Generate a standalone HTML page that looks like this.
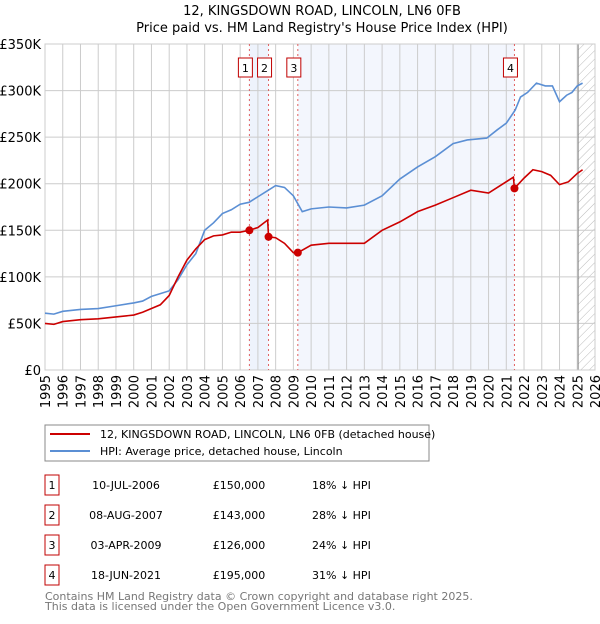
<!DOCTYPE html>
<html><head><meta charset="utf-8"><style>
body{margin:0;background:#fff;font-family:"DejaVu Sans","Liberation Sans",sans-serif}
svg text{font-family:"DejaVu Sans","Liberation Sans",sans-serif}
</style></head><body>
<svg id="c" width="600" height="620" xmlns="http://www.w3.org/2000/svg">
<defs><pattern id="hatch" width="6" height="6" patternUnits="userSpaceOnUse" patternTransform="rotate(45)"><line x1="0" y1="0" x2="0" y2="6" stroke="#bbb" stroke-width="1"/></pattern></defs>
<text x="322" y="15" text-anchor="middle" font-size="13">12, KINGSDOWN ROAD, LINCOLN, LN6 0FB</text>
<text x="322" y="32" text-anchor="middle" font-size="13">Price paid vs. HM Land Registry's House Price Index (HPI)</text>
<g id="plot"></g>
<rect x="45" y="425" width="384" height="36" fill="#fff" stroke="#888"/>
<line x1="50" y1="434" x2="90" y2="434" stroke="#cc0000" stroke-width="2"/>
<text x="100" y="438" font-size="11">12, KINGSDOWN ROAD, LINCOLN, LN6 0FB (detached house)</text>
<line x1="50" y1="451" x2="90" y2="451" stroke="#5b8fd4" stroke-width="2"/>
<text x="100" y="455" font-size="11">HPI: Average price, detached house, Lincoln</text>
<g id="table"></g>
<text x="45" y="600" font-size="11" fill="#777">Contains HM Land Registry data © Crown copyright and database right 2025.</text>
<text x="45" y="610" font-size="11" fill="#777">This data is licensed under the Open Government Licence v3.0.</text>
</svg>
<script>
const hpiYears=[1995,1995.5,1996,1997,1998,1999,2000,2000.5,2001,2001.5,2002,2002.5,2003,2003.5,2004,2004.5,2005,2005.5,2006,2006.5,2007,2007.5,2008,2008.5,2009,2009.5,2010,2011,2012,2013,2014,2015,2016,2017,2018,2018.8,2019.9,2020.5,2021,2021.5,2021.8,2022.2,2022.7,2023.2,2023.6,2024,2024.4,2024.7,2025,2025.3];
const hpiValues=[61,60,63,65,66,69,72,74,79,82,85,97,113,125,150,158,168,172,178,180,186,192,198,196,187,170,173,175,174,177,187,205,218,229,243,247,249,258,265,279,293,298,308,305,305,288,295,298,305,308];
const ppYears=[1995,1995.5,1996,1997,1998,1999,2000,2000.5,2001,2001.5,2002,2002.5,2003,2003.5,2004,2004.5,2005,2005.5,2006,2006.52,2007,2007.55,2007.6,2008,2008.5,2009,2009.25,2010,2011,2012,2013,2014,2015,2016,2017,2018,2019,2020,2021.4,2021.46,2022,2022.5,2023,2023.5,2024,2024.5,2025,2025.3];
const ppValues=[50,49,52,54,55,57,59,62,66,70,80,100,118,130,140,144,145,148,148,150,153,161,143,142,136,126,126,134,136,136,136,150,159,170,177,185,193,190,207,195,206,215,213,209,199,202,211,215];
const saleYears=[2006.52,2007.6,2009.25,2021.46];
const saleValues=[150,143,126,195];
const saleLabels=["1","2","3","4"];
const saleDates=["10-JUL-2006","08-AUG-2007","03-APR-2009","18-JUN-2021"];
const salePrices=["£150,000","£143,000","£126,000","£195,000"];
const saleDiffs=["18% ↓ HPI","28% ↓ HPI","24% ↓ HPI","31% ↓ HPI"];
const yTicks=[0,50,100,150,200,250,300,350];
const yTickLabels=["£0","£50K","£100K","£150K","£200K","£250K","£300K","£350K"];
const xTicks=[1995,1996,1997,1998,1999,2000,2001,2002,2003,2004,2005,2006,2007,2008,2009,2010,2011,2012,2013,2014,2015,2016,2017,2018,2019,2020,2021,2022,2023,2024,2025,2026];

const NS="http://www.w3.org/2000/svg";
const L=45,R=595,T=44,B=370;
const x=v=>L+(v-1995)*(R-L)/31;
const y=v=>B-v*(B-T)/350;
const g=document.getElementById('plot');
function mk(tag,at,parent){const e=document.createElementNS(NS,tag);for(const k in at)e.setAttribute(k,at[k]);(parent||g).appendChild(e);return e;}
// shading
let s1=mk('rect',{x:x(saleYears[0]),y:T,width:x(saleYears[1])-x(saleYears[0]),height:B-T,fill:'#eef3fc'});


let s2=mk('rect',{x:x(saleYears[2]),y:T,width:x(saleYears[3])-x(saleYears[2]),height:B-T,fill:'#f3f6fd'});


let h=mk('rect',{x:x(2025.05),y:T,width:R-x(2025.05),height:B-T,fill:'url(#hatch)'});


// grid
yTicks.forEach((t,i)=>{
 let l=mk('line',{x1:L,x2:R,y1:y(t),y2:y(t),stroke:'#ccc'});
 
 
 let tx=mk('text',{x:L-4,y:y(t)+5,'text-anchor':'end','font-size':13});
 tx.textContent=yTickLabels[i];
 
 
});
xTicks.forEach(t=>{
 let l=mk('line',{x1:x(t),x2:x(t),y1:T,y2:B,stroke:'#ccc'});
 
 
 let tx=mk('text',{x:0,y:0,'text-anchor':'end','font-size':13,transform:`translate(${x(t)+5},${B+5}) rotate(-90)`});
 tx.textContent=t;
 
 
});
let vl=mk('line',{x1:x(2025.05),x2:x(2025.05),y1:T,y2:B,stroke:'#888'});


let fr=mk('rect',{x:L,y:T,width:R-L,height:B-T,fill:'none',stroke:'#ccc'});


// sale vlines & labels
saleYears.forEach((t,i)=>{
 let l=mk('line',{x1:x(t),x2:x(t),y1:T,y2:B,stroke:'#e06060','stroke-dasharray':'2,3'});
 
 
 let b=mk('rect',{x:x(t)-11,y:58,width:14,height:19,fill:'#fff',stroke:'#c00000'});
 
 
 let tx=mk('text',{x:x(t)-4,y:72,'text-anchor':'middle','font-size':11});
 tx.textContent=saleLabels[i];
 
 
});
// lines
let hp=mk('polyline',{points:hpiYears.map((t,i)=>x(t)+','+y(hpiValues[i])).join(' '),fill:'none',stroke:'#5b8fd4','stroke-width':1.6});


let pp=mk('polyline',{points:ppYears.map((t,i)=>x(t)+','+y(ppValues[i])).join(' '),fill:'none',stroke:'#cc0000','stroke-width':1.6});


saleYears.forEach((t,i)=>{
 let c=mk('circle',{cx:x(t),cy:y(saleValues[i]),r:4,fill:'#cc0000'});
 
 
});
// table
const tb=document.getElementById('table');
saleLabels.forEach((lab,i)=>{
 const ry=475+i*30;
 let b=mk('rect',{x:45,y:ry,width:14,height:20,fill:'#fff',stroke:'#c00000'},tb);
 
 
 const cells=[[52,lab,'middle','table-sale-number'],[126,saleDates[i],'middle','table-sale-date'],[239,salePrices[i],'middle','table-sale-price'],[312,saleDiffs[i],'start','table-sale-diff']];
 cells.forEach(c=>{
  let tx=mk('text',{x:c[0],y:ry+14,'text-anchor':c[2],'font-size':11},tb);
  tx.textContent=c[1];
  
  
 });
});
</script>
</body></html>
